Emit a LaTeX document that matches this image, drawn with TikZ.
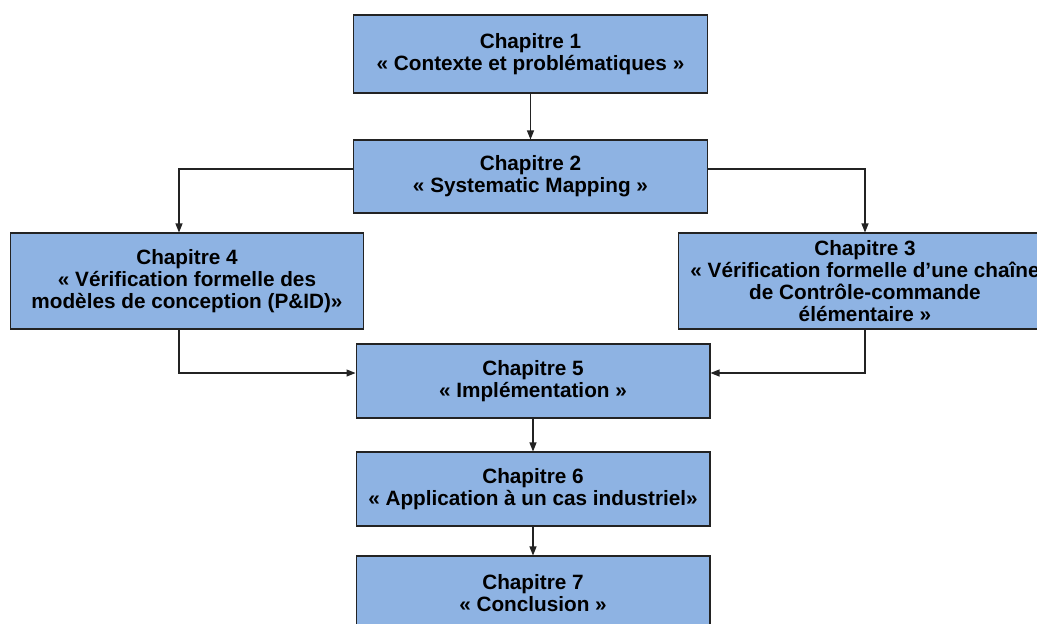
\documentclass[tikz,border=0pt]{standalone}
\usepackage{fontspec}
\setmainfont{Liberation Sans}
\usetikzlibrary{arrows.meta}
\definecolor{ColBox}{RGB}{142,179,227}
\definecolor{ColLine}{RGB}{35,35,35}
\tikzstyle{NodeChap}=[rectangle,draw=ColLine,fill=ColBox,line width=0.6pt,minimum width=7.08cm,
align=center,inner sep=1pt,font=\bfseries\fontsize{11.8}{12.6}\selectfont]
\tikzstyle{EdgeChap}=[ColLine,line width=0.6pt,-{Triangle[length=1.8mm,width=1.4mm]}]
\begin{document}
\begin{tikzpicture}[x=0.02cm,y=-0.02cm]
        \useasboundingbox (0,0) rectangle (1037,623);
        \node[NodeChap,minimum height=1.56cm](c1)at(530.5,54){Chapitre 1\\« Contexte et problématiques »};
        \node[NodeChap,minimum height=1.46cm](c2)at(530.5,176.5){Chapitre 2\\« Systematic Mapping »};
        \node[NodeChap,minimum height=1.92cm](c4)at(187,281){Chapitre 4\\« Vérification formelle des\\modèles de conception (P\&ID)»};
        \node[NodeChap,minimum height=1.92cm,minimum width=7.48cm](c3)at(865,281){Chapitre 3\\« Vérification formelle d’une chaîne\\de Contrôle-commande\\élémentaire »};
        \node[NodeChap,minimum height=1.48cm](c5)at(533,381){Chapitre 5\\« Implémentation »};
        \node[NodeChap,minimum height=1.48cm](c6)at(533,489){Chapitre 6\\« Application à un cas industriel»};
        \node[NodeChap,minimum height=1.48cm](c7)at(533,593){Chapitre 7\\« Conclusion »};
        \draw[EdgeChap](c1)--(c2);
        \draw[EdgeChap]([yshift=0.15cm]c2.west)-|([xshift=-0.16cm]c4.north);
        \draw[EdgeChap]([yshift=0.15cm]c2.east)-|(c3.north);
        \draw[EdgeChap]([xshift=-0.16cm]c4.south)|-([yshift=0.16cm]c5.west);
        \draw[EdgeChap](c3.south)|-([yshift=0.16cm]c5.east);
        \draw[EdgeChap](c5)--(c6);
        \draw[EdgeChap](c6)--(c7);
    \end{tikzpicture}
\end{document}
